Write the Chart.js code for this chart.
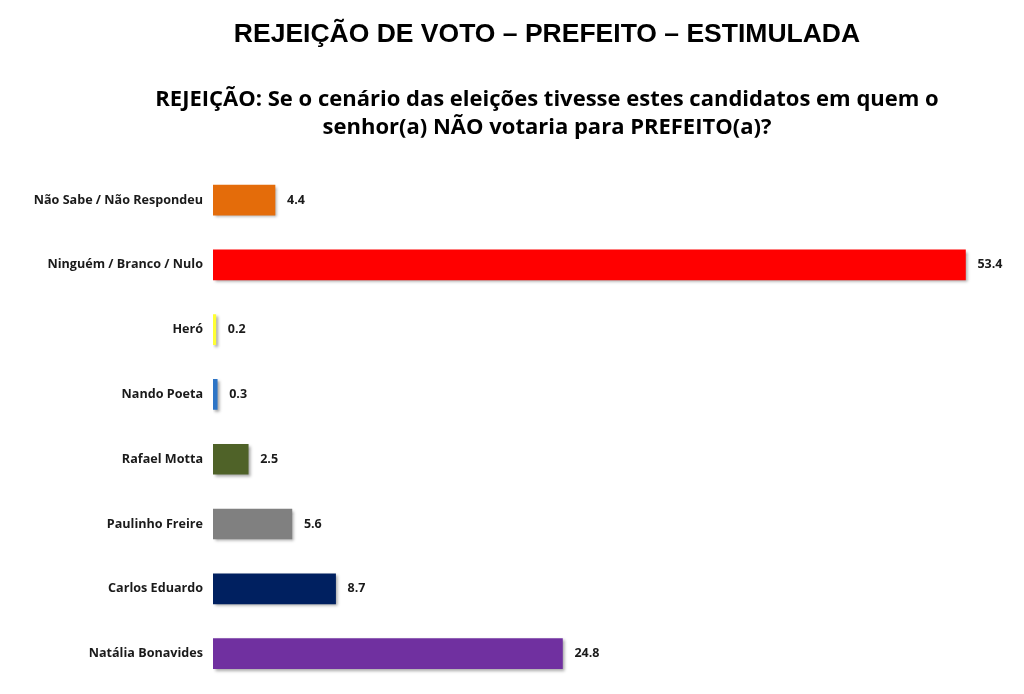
<!DOCTYPE html>
<html>
<head>
<meta charset="utf-8">
<script src="https://cdn.jsdelivr.net/npm/chart.js@4"></script>
<style>
  html, body { margin: 0; padding: 0; background: #fff; }
  #wrap { width: 1024px; height: 694px; }
</style>
</head>
<body>
<div id="wrap"><canvas id="chart"></canvas></div>
<script>
'use strict';

const categories = [
  'Não Sabe / Não Respondeu',
  'Ninguém / Branco / Nulo',
  'Heró',
  'Nando Poeta',
  'Rafael Motta',
  'Paulinho Freire',
  'Carlos Eduardo',
  'Natália Bonavides',
];
const values = [4.4, 53.4, 0.2, 0.3, 2.5, 5.6, 8.7, 24.8];
const barColors = ['#E46C0A', '#FF0000', '#FFFF33', '#2E75C6', '#4F6228', '#808080', '#002060', '#7030A0'];

const titleText = 'REJEIÇÃO DE VOTO – PREFEITO – ESTIMULADA';
const subtitleLines = [
  'REJEIÇÃO: Se o cenário das eleições tivesse estes candidatos em quem o',
  'senhor(a) NÃO votaria para PREFEITO(a)?',
];

// soft drop shadow under the bars
const barShadow = {
  id: 'barShadow',
  beforeDatasetDraw: (chart) => {
    const ctx = chart.ctx;
    ctx.save();
    ctx.shadowColor = 'rgba(0,0,0,0.35)';
    ctx.shadowBlur = 3;
    ctx.shadowOffsetX = 2;
    ctx.shadowOffsetY = 2;
  },
  afterDatasetDraw: (chart) => {
    chart.ctx.restore();
  },
};

// let the long category names run past the left layout padding
const unclipLabels = {
  id: 'unclipLabels',
  afterLayout: (chart) => {
    chart.scales.y.left = 0;
  },
};

// value written just right of each bar
const valueLabels = {
  id: 'valueLabels',
  afterDatasetsDraw: (chart) => {
    const ctx = chart.ctx;
    const meta = chart.getDatasetMeta(0);
    ctx.save();
    ctx.font = 'bold 12.5px "Open Sans", sans-serif';
    ctx.fillStyle = '#1a1a1a';
    ctx.textAlign = 'left';
    ctx.textBaseline = 'middle';
    meta.data.forEach((bar, i) => {
      ctx.fillText(values[i].toFixed(1), bar.x + 12, bar.y);
    });
    ctx.restore();
  },
};

const ctx = document.querySelector('#chart');

new Chart(ctx, {
  type: 'bar',
  data: {
    labels: categories,
    datasets: [{
      data: values,
      backgroundColor: barColors,
      borderWidth: 0,
      barThickness: 30,
      categoryPercentage: 1,
    }],
  },
  plugins: [barShadow, unclipLabels, valueLabels],
  options: {
    indexAxis: 'y',
    responsive: true,
    maintainAspectRatio: false,
    animation: false,
    layout: {
      padding: { left: 106, right: 36, top: 0, bottom: 8 },
    },
    scales: {
      x: {
        display: false,
        min: 0,
        max: 55,
      },
      y: {
        grid: { display: false, drawTicks: false },
        border: { display: false },
        ticks: {
          padding: 10,
          color: '#1a1a1a',
          font: { family: '"Open Sans", sans-serif', size: 12.6, weight: 'bold' },
        },
        afterFit: (scale) => {
          scale.width = 107;
          scale.paddingTop = 0;
          scale.paddingBottom = 0;
        },
      },
    },
    plugins: {
      legend: { display: false },
      tooltip: { enabled: false },
      title: {
        display: true,
        text: titleText,
        color: '#000',
        font: { family: '"Liberation Sans", Arial, sans-serif', size: 26.5, weight: 'bold' },
        padding: { top: 19, bottom: 35 },
      },
      subtitle: {
        display: true,
        text: subtitleLines,
        color: '#000',
        font: { family: '"Open Sans", sans-serif', size: 22, weight: 'bold', lineHeight: 1.27 },
        padding: { top: 0, bottom: 26 },
      },
    },
  },
});
</script>
</body>
</html>
